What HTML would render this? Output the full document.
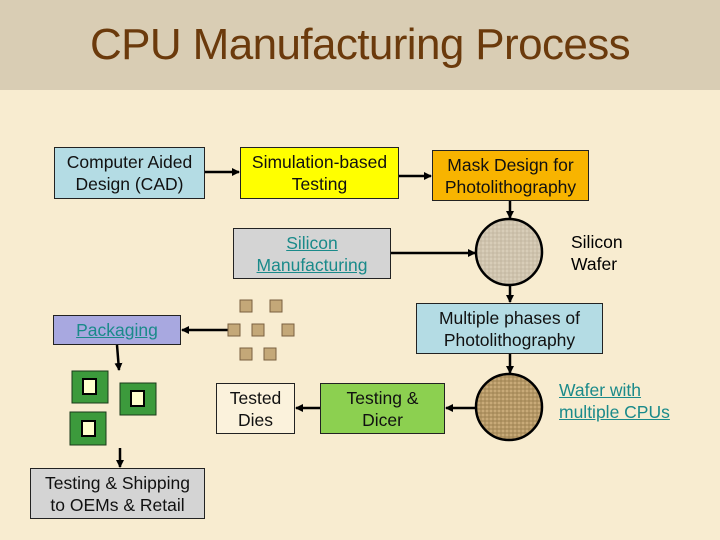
<!DOCTYPE html>
<html><head><meta charset="utf-8"><style>
body{margin:0;width:720px;height:540px;overflow:hidden;background:#f8ecd0;font-family:"Liberation Sans",sans-serif;position:relative}
.hdr{position:absolute;left:0;top:0;width:720px;height:90px;background:#d9cdb4}
.t{position:absolute;left:0;width:720px;top:20px;text-align:center;font-size:44px;color:#6b3a0c;letter-spacing:-0.6px}
.b{position:absolute;border:1.5px solid #222;box-sizing:border-box;display:flex;align-items:center;justify-content:center;text-align:center;font-size:17.5px;line-height:22px;color:#111;white-space:nowrap}
.l{color:#1a8a8a;text-decoration:underline}
.lbl{position:absolute;font-size:17.5px;line-height:22px}
</style></head><body>
<div class="hdr"></div>
<div class="t">CPU Manufacturing Process</div>
<div class="b" style="left:54px;top:147px;width:151px;height:52px;background:#b4dce4">Computer Aided<br>Design (CAD)</div>
<div class="b" style="left:240px;top:147px;width:159px;height:52px;background:#ffff00">Simulation-based<br>Testing</div>
<div class="b" style="left:432px;top:150px;width:157px;height:51px;background:#f8b400">Mask Design for<br>Photolithography</div>
<div class="b" style="left:233px;top:228px;width:158px;height:51px;background:#d4d4d4"><span class="l">Silicon<br>Manufacturing</span></div>
<div class="b" style="left:416px;top:303px;width:187px;height:51px;background:#b4dce4">Multiple phases of<br>Photolithography</div>
<div class="b" style="left:320px;top:383px;width:125px;height:51px;background:#8cd050">Testing &amp;<br>Dicer</div>
<div class="b" style="left:216px;top:383px;width:79px;height:51px;background:#fbf2dc;border-width:1px">Tested<br>Dies</div>
<div class="b" style="left:53px;top:315px;width:128px;height:30px;background:#a8a8e0"><span class="l">Packaging</span></div>
<div class="b" style="left:30px;top:468px;width:175px;height:51px;background:#d4d4d4;border-width:1px">Testing &amp; Shipping<br>to OEMs &amp; Retail</div>
<div class="lbl" style="left:571px;top:231px">Silicon<br>Wafer</div>
<div class="lbl l" style="left:559px;top:379px">Wafer with<br>multiple CPUs</div>
<svg width="720" height="540" style="position:absolute;left:0;top:0">
<defs><marker id="a" markerWidth="8" markerHeight="8" refX="7" refY="4" orient="auto" markerUnits="userSpaceOnUse"><path d="M0,0L8,4L0,8z" fill="#000"/></marker>
<pattern id="p" width="4" height="4" patternUnits="userSpaceOnUse"><rect width="4" height="4" fill="#d8cdb8"/><path d="M0,1H4M1,0V4" stroke="#bfb39c" stroke-width="0.8"/></pattern>
<pattern id="q" width="4" height="4" patternUnits="userSpaceOnUse"><rect width="4" height="4" fill="#c8aa78"/><path d="M0,1H4M1,0V4" stroke="#9c8050" stroke-width="0.9"/></pattern></defs>
<g stroke="#000" stroke-width="2.5" fill="none" marker-end="url(#a)">
<line x1="205" y1="172" x2="239" y2="172"/>
<line x1="399" y1="176" x2="431" y2="176"/>
<line x1="510" y1="201" x2="510" y2="218"/>
<line x1="391" y1="253" x2="475" y2="253"/>
<line x1="510" y1="286" x2="510" y2="302"/>
<line x1="510" y1="354" x2="510" y2="373"/>
<line x1="476" y1="408" x2="446" y2="408"/>
<line x1="320" y1="408" x2="296" y2="408"/>
<line x1="228" y1="330" x2="182" y2="330"/>
<line x1="117" y1="345" x2="119" y2="370"/>
<line x1="120" y1="448" x2="120" y2="467"/>
</g>
<circle cx="509" cy="252" r="33" fill="url(#p)" stroke="#000" stroke-width="2.5"/>
<circle cx="509" cy="407" r="33" fill="url(#q)" stroke="#000" stroke-width="2.5"/>
<g fill="#c4a878" stroke="#7a6040" stroke-width="1">
<rect x="240" y="300" width="12" height="12"/><rect x="270" y="300" width="12" height="12"/>
<rect x="228" y="324" width="12" height="12"/><rect x="252" y="324" width="12" height="12"/><rect x="282" y="324" width="12" height="12"/>
<rect x="240" y="348" width="12" height="12"/><rect x="264" y="348" width="12" height="12"/>
</g>
<g stroke="#1a3a1a" stroke-width="1">
<rect x="72" y="371" width="36" height="32" fill="#3c9a3c"/><rect x="83" y="379" width="13" height="15" fill="#ffffcc" stroke="#000" stroke-width="2"/>
<rect x="120" y="383" width="36" height="32" fill="#3c9a3c"/><rect x="131" y="391" width="13" height="15" fill="#ffffcc" stroke="#000" stroke-width="2"/>
<rect x="70" y="412" width="36" height="33" fill="#3c9a3c"/><rect x="82" y="421" width="13" height="15" fill="#ffffcc" stroke="#000" stroke-width="2"/>
</g>
</svg>
</body></html>
